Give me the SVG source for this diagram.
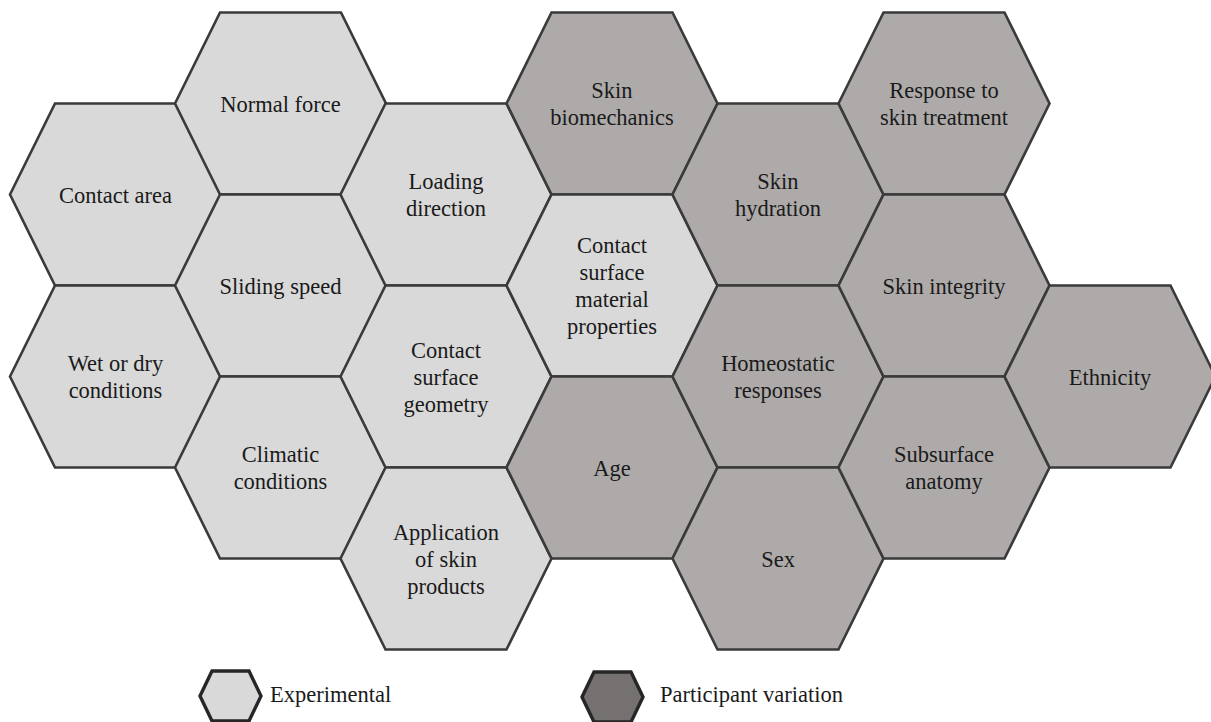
<svg xmlns="http://www.w3.org/2000/svg" xmlns:xlink="http://www.w3.org/1999/xlink" width="1211" height="722" viewBox="0 0 1211 722">
<style>
  .hx { stroke: #3a3a3a; stroke-width: 2.6; stroke-linejoin: miter; }
  .exp { fill: #d9d9d9; }
  .par { fill: #aeaaaa; }
  .lg { stroke: #262626; stroke-width: 3.4; }
  .lgexp { fill: #d9d9d9; }
  .lgpar { fill: #767171; }
  .t, .lt { font-family: 'Liberation Serif', Tinos, 'Nimbus Roman', 'Times New Roman', Times, 'Noto Serif', 'DejaVu Serif', serif; fill: #1a1a1a; }
  .t { font-size: 22.5px; text-anchor: middle; }
  .lt { font-size: 22.5px; text-anchor: start; }
</style>
<defs>
  <polygon id="hex" points="-105.5,0 -60.5,-91 60.5,-91 105.5,0 60.5,91 -60.5,91"/>
  <polygon id="lhex" points="-30.5,0 -18.5,-25 18.5,-25 30.5,0 18.5,25 -18.5,25"/>
</defs>
<rect width="1211" height="722" fill="#ffffff"/>
<g id="connectors"></g>

<g id="contact-area"><use xlink:href="#hex" class="hx exp" x="115.5" y="194.5"/><text class="t" x="115.5" y="202.5">Contact area</text></g>
<g id="wet-dry"><use xlink:href="#hex" class="hx exp" x="115.5" y="376.5"/><text class="t" x="115.5" y="371">Wet or dry</text><text class="t" x="115.5" y="398">conditions</text></g>
<g id="normal-force"><use xlink:href="#hex" class="hx exp" x="280.5" y="103.5"/><text class="t" x="280.5" y="111.5">Normal force</text></g>
<g id="sliding-speed"><use xlink:href="#hex" class="hx exp" x="280.5" y="285.5"/><text class="t" x="280.5" y="293.5">Sliding speed</text></g>
<g id="climatic"><use xlink:href="#hex" class="hx exp" x="280.5" y="467.5"/><text class="t" x="280.5" y="462">Climatic</text><text class="t" x="280.5" y="489">conditions</text></g>
<g id="loading-direction"><use xlink:href="#hex" class="hx exp" x="446" y="194.5"/><text class="t" x="446" y="189">Loading</text><text class="t" x="446" y="216">direction</text></g>
<g id="contact-geometry"><use xlink:href="#hex" class="hx exp" x="446" y="376.5"/><text class="t" x="446" y="357.5">Contact</text><text class="t" x="446" y="384.5">surface</text><text class="t" x="446" y="411.5">geometry</text></g>
<g id="skin-products"><use xlink:href="#hex" class="hx exp" x="446" y="558.5"/><text class="t" x="446" y="539.5">Application</text><text class="t" x="446" y="566.5">of skin</text><text class="t" x="446" y="593.5">products</text></g>
<g id="skin-biomechanics"><use xlink:href="#hex" class="hx par" x="612" y="103.5"/><text class="t" x="612" y="98">Skin</text><text class="t" x="612" y="125">biomechanics</text></g>
<g id="contact-material"><use xlink:href="#hex" class="hx exp" x="612" y="285.5"/><text class="t" x="612" y="253">Contact</text><text class="t" x="612" y="280">surface</text><text class="t" x="612" y="307">material</text><text class="t" x="612" y="334">properties</text></g>
<g id="age"><use xlink:href="#hex" class="hx par" x="612" y="467.5"/><text class="t" x="612" y="475.5">Age</text></g>
<g id="skin-hydration"><use xlink:href="#hex" class="hx par" x="778" y="194.5"/><text class="t" x="778" y="189">Skin</text><text class="t" x="778" y="216">hydration</text></g>
<g id="homeostatic"><use xlink:href="#hex" class="hx par" x="778" y="376.5"/><text class="t" x="778" y="371">Homeostatic</text><text class="t" x="778" y="398">responses</text></g>
<g id="sex"><use xlink:href="#hex" class="hx par" x="778" y="558.5"/><text class="t" x="778" y="566.5">Sex</text></g>
<g id="skin-treatment"><use xlink:href="#hex" class="hx par" x="944" y="103.5"/><text class="t" x="944" y="98">Response to</text><text class="t" x="944" y="125">skin treatment</text></g>
<g id="skin-integrity"><use xlink:href="#hex" class="hx par" x="944" y="285.5"/><text class="t" x="944" y="293.5">Skin integrity</text></g>
<g id="subsurface"><use xlink:href="#hex" class="hx par" x="944" y="467.5"/><text class="t" x="944" y="462">Subsurface</text><text class="t" x="944" y="489">anatomy</text></g>
<g id="ethnicity"><use xlink:href="#hex" class="hx par" x="1110" y="376.5"/><text class="t" x="1110" y="384.5">Ethnicity</text></g>

<g id="legend-experimental"><use xlink:href="#lhex" class="lg lgexp" x="230.5" y="696"/><text class="lt" x="270" y="702">Experimental</text></g>
<g id="legend-participant"><use xlink:href="#lhex" class="lg lgpar" x="612.5" y="697"/><text class="lt" x="660" y="702">Participant variation</text></g>
</svg>
